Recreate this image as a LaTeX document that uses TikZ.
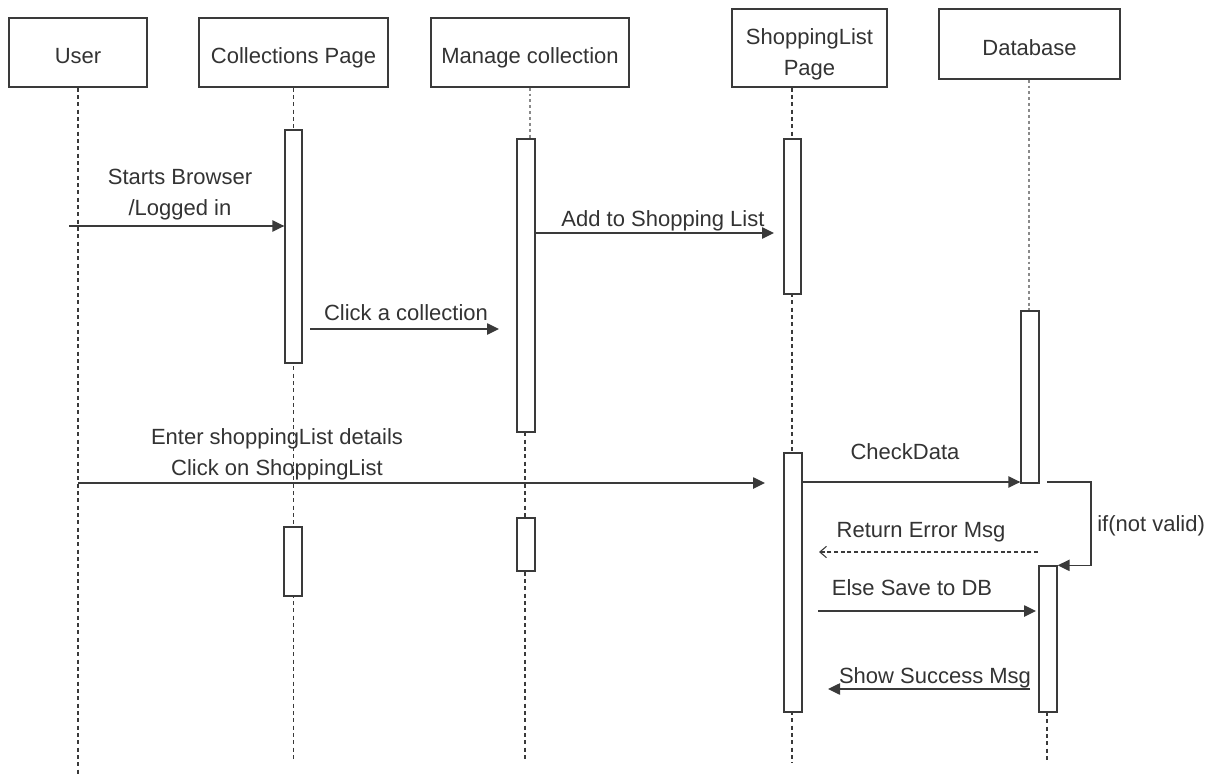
\documentclass[tikz,border=0pt]{standalone}
\usepackage{fontspec}
\setmainfont{Liberation Sans}
\usetikzlibrary{arrows.meta,fit}
\definecolor{ink}{HTML}{333333}
\definecolor{lne}{HTML}{3A3A3A}
\definecolor{lite}{HTML}{8A8A8A}
\begin{document}
\begin{tikzpicture}[x=0.75pt,y=-0.75pt,
  font=\fontsize{16.5}{23.25}\selectfont,
  hdr/.style={draw=lne, line width=1pt, fill=white, inner sep=0pt, text=ink,
              text height=17pt, text depth=0pt},
  act/.style={draw=lne, line width=1pt, fill=white, inner sep=0pt},
  life/.style={draw=lne, line width=0.9pt, dash pattern=on 3pt off 2.5pt},
  lifelite/.style={draw=lite, line width=1.1pt, dash pattern=on 2.2pt off 2.2pt},
  msg/.style={draw=lne, line width=1.1pt, -{Triangle[length=9pt,width=8.5pt]}},
  ret/.style={draw=lne, line width=0.8pt, dash pattern=on 3pt off 2pt,
              -{Straight Barb[length=5pt,width=8.5pt,line width=0.8pt]}},
  lbl/.style={inner sep=0pt, text=ink, text height=12pt, text depth=3.5pt},
  lbltwo/.style={inner sep=0pt, text=ink, align=center}]

\fill[white] (0,0) rectangle (1218,774);
\useasboundingbox (0,0) rectangle (1218,774);

% header boxes
\node[hdr, minimum width=103.5pt, minimum height=51.75pt] (user) at (78,52.5) {User};
\node[hdr, minimum width=141.75pt, minimum height=51.75pt] (coll) at (293.5,52.5) {Collections Page};
\node[hdr, minimum width=148.5pt, minimum height=51.75pt] (manage) at (530,52.5) {Manage collection};
\node[draw=lne, line width=1pt, fill=white, inner sep=0pt, text=ink, align=center,
      minimum width=116.25pt, minimum height=58.5pt] (shop) at (809.5,48)
      {\rule{0pt}{22pt}ShoppingList\\Page};
\node[hdr, minimum width=135.75pt, minimum height=52.5pt] (db) at (1029.5,44) {Database};

% lifeline ends
\coordinate (uend) at (0,774);
\coordinate (lend) at (0,760);
\coordinate (lend2) at (0,763);
\coordinate (mx) at (525,0);
\coordinate (sx) at (792,0);
\coordinate (dx) at (1047,0);

% activation boxes (positions)
\path (285,130) coordinate (C1a) (302,363) coordinate (C1b)
      (284,527) coordinate (C2a) (302,596) coordinate (C2b)
      (517,139) coordinate (M1a) (535,432) coordinate (M1b)
      (517,518) coordinate (M2a) (535,571) coordinate (M2b)
      (784,139) coordinate (S1a) (801,294) coordinate (S1b)
      (784,453) coordinate (S2a) (802,712) coordinate (S2b)
      (1021,311) coordinate (D1a) (1039,483) coordinate (D1b)
      (1039,566) coordinate (D2a) (1057,712) coordinate (D2b);

% lifelines
\draw[life] (user.south) -- (user.south |- uend);
\draw[life] (coll.south) -- (coll.south |- lend);
\draw[lifelite] (manage.south) -- (manage.south |- M1a);
\draw[life] (mx |- M1a) -- (mx |- lend);
\draw[life] (sx |- shop.south) -- (sx |- lend2);
\draw[lifelite] (db.south -| D1a) ++(8,0) -- ([xshift=6pt]D1a);
\draw[life] (dx |- D2b) -- (dx |- lend2);

% activation boxes
\node[act, fit=(C1a)(C1b)] (C1) {};
\node[act, fit=(C2a)(C2b)] (C2) {};
\node[act, fit=(M1a)(M1b)] (M1) {};
\node[act, fit=(M2a)(M2b)] (M2) {};
\node[act, fit=(S1a)(S1b)] (S1) {};
\node[act, fit=(S2a)(S2b)] (S2) {};
\node[act, fit=(D1a)(D1b)] (D1) {};
\node[act, fit=(D2a)(D2b)] (D2) {};

% message end points
\coordinate (sb) at (69,226);
\coordinate (ca) at (310,329);
\coordinate (cb) at (499,329);
\coordinate (ad) at (774,233);
\coordinate (ea) at (78,483);
\coordinate (eb) at (765,483);
\coordinate (ck) at (0,482);
\coordinate (lpS) at (1047,482);
\coordinate (lpX) at (1091,0);
\coordinate (ra) at (1038,552);
\coordinate (rb) at (819,552);
\coordinate (es) at (818,611);
\coordinate (ee) at (1036,611);
\coordinate (sa) at (1030,689);
\coordinate (sz) at (828,689);

% messages
\draw[msg] (sb) -- (sb -| C1.west);
\node[lbltwo] (tStart) at (180,195) {Starts Browser\\/Logged in};

\draw[msg] (ca) -- (cb);
\node[lbl] (tClick) at (406,315) {Click a collection};

\draw[msg] (M1.east |- ad) -- (ad);
\node[lbl] (tAdd) at (663,221) {Add to Shopping List};

\draw[msg] (ea) -- (eb);
\node[lbltwo] (tEnter) at (277,454) {Enter shoppingList details\\Click on ShoppingList};

\draw[msg] (S2.east |- ck) -- (D1.west |- ck);
\node[lbl] (tCheck) at (905,454) {CheckData};

\draw[msg] (lpS) -- (lpS -| lpX) |- (D2.north east);
\node[lbl, anchor=west] (tIf) at (1097,526) {if(not valid)};

\draw[ret] (ra) -- (rb);
\node[lbl] (tRet) at (921,532) {Return Error Msg};

\draw[msg] (es) -- (ee);
\node[lbl] (tElse) at (912,590) {Else Save to DB};

\draw[msg] (sa) -- (sz);
\node[lbl] (tShow) at (935,678) {Show Success Msg};

\end{tikzpicture}
\end{document}
